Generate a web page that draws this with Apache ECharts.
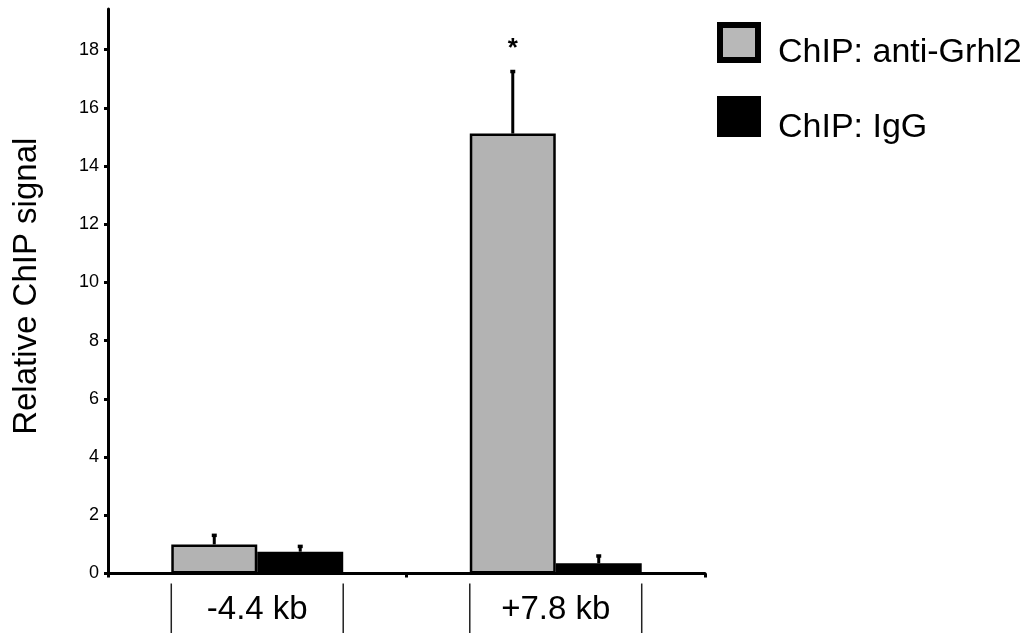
<!DOCTYPE html>
<html><head><meta charset="utf-8">
<script src="https://cdn.jsdelivr.net/npm/echarts@6/dist/echarts.min.js"></script>
<style>html,body{margin:0;padding:0;background:#fff}#c{width:1031px;height:633px}</style>
</head><body><div id="c"></div>
<script>
const categories = ['-4.4 kb', '+7.8 kb'];
const seriesNames = ['ChIP: anti-Grhl2', 'ChIP: IgG'];
const grhl2Values = [1.0, 15.12];
const grhl2Errors = [0.32, 2.14];
const iggValues = [0.75, 0.35];
const iggErrors = [0.19, 0.26];
const significance = ['', '*'];
const yTicks = [0, 2, 4, 6, 8, 10, 12, 14, 16, 18];
const yMax = 19.4;
const gapRatio = 0.424;
const FONT = '"Liberation Sans", Arial, sans-serif';

function errorSeries(values, errors, side, marks) {
  return {
    type: 'custom', silent: true, clip: false, z: 5,
    data: values.map((v, i) => [i, v, errors[i]]),
    renderItem(params, api) {
      const i = api.value(0), v = api.value(1), e = api.value(2);
      const band = api.size([1, 0])[0];
      const bw = band * (1 - gapRatio) / 2;
      const c = api.coord([i, v]);
      const x = c[0] + side * bw / 2;
      const top = api.coord([i, v + e])[1];
      const children = [
        {type: 'line', shape: {x1: x, y1: c[1], x2: x, y2: top}, style: {stroke: '#000', lineWidth: 3}},
        {type: 'rect', shape: {x: x - 2.5, y: top - 1.5, width: 5, height: 3.5}, style: {fill: '#000'}}
      ];
      if (marks && marks[i]) {
        children.push({type: 'text', style: {text: marks[i], x: x, y: top - 22, align: 'center', verticalAlign: 'middle', font: 'bold 26px ' + FONT, fill: '#000'}});
      }
      return {type: 'group', children};
    }
  };
}

const dividerSeries = {
  type: 'custom', silent: true, clip: false, z: 1,
  data: categories.map((c, i) => [i, 0]),
  renderItem(params, api) {
    const i = api.value(0);
    const band = api.size([1, 0])[0];
    const bw = band * (1 - gapRatio) / 2;
    const c = api.coord([i, 0]);
    const lines = [-1, 1].map(s => ({
      type: 'line',
      shape: {x1: c[0] + s * bw, y1: c[1] + 10, x2: c[0] + s * bw, y2: c[1] + 70},
      style: {stroke: '#222', lineWidth: 1.5}
    }));
    return {type: 'group', children: lines};
  }
};

const legendIcons = (name, fill, top) => ({
  data: [{name: name, itemStyle: {color: fill, borderColor: '#000', borderWidth: 6}}],
  left: 717, top: top, padding: 0, icon: 'rect', itemWidth: 38, itemHeight: 35,
  formatter: () => '', textStyle: {fontSize: 1}
});

const chart = echarts.init(document.getElementById('c'), null, {renderer: 'canvas'});
chart.setOption({
  animation: false,
  backgroundColor: '#fff',
  textStyle: {fontFamily: FONT},
  grid: {left: 108, right: 326, top: 9, bottom: 59.5, containLabel: false},
  legend: [legendIcons(seriesNames[0], '#b8b8b8', 22), legendIcons(seriesNames[1], '#000', 96)],
  graphic: [
    {type: 'text', x: 778, y: 53, style: {text: seriesNames[0], verticalAlign: 'middle', font: '34px ' + FONT, fill: '#000'}},
    {type: 'text', x: 778, y: 128, style: {text: seriesNames[1], verticalAlign: 'middle', font: '34px ' + FONT, fill: '#000'}}
  ],
  xAxis: {
    type: 'category', data: categories,
    axisLine: {lineStyle: {color: '#000', width: 3}},
    axisTick: {show: true, length: 4, lineStyle: {color: '#000', width: 3}},
    axisLabel: {fontSize: 33, color: '#000', margin: 20, fontFamily: FONT}
  },
  yAxis: {
    type: 'value', min: 0, max: yMax, interval: 2,
    name: 'Relative ChIP signal', nameLocation: 'middle', nameGap: 65, nameRotate: 90,
    nameTextStyle: {fontSize: 33, color: '#000', fontFamily: FONT, padding: [0, 0, 0, 10]},
    axisLine: {show: true, lineStyle: {color: '#000', width: 3}},
    axisTick: {show: true, length: 4, customValues: yTicks, lineStyle: {color: '#000', width: 3}},
    axisLabel: {fontSize: 18, color: '#000', margin: 9, customValues: yTicks, fontFamily: FONT},
    splitLine: {show: false}
  },
  series: [
    {type: 'bar', name: seriesNames[0], data: grhl2Values, barGap: '0%', barCategoryGap: (gapRatio * 100) + '%',
     itemStyle: {color: '#b3b3b3', borderColor: '#000', borderWidth: 2.5}},
    {type: 'bar', name: seriesNames[1], data: iggValues, barGap: '0%', barCategoryGap: (gapRatio * 100) + '%',
     itemStyle: {color: '#000', borderColor: '#000', borderWidth: 2.5}},
    errorSeries(grhl2Values, grhl2Errors, -1, significance),
    errorSeries(iggValues, iggErrors, 1, null),
    dividerSeries
  ]
});
</script></body></html>
